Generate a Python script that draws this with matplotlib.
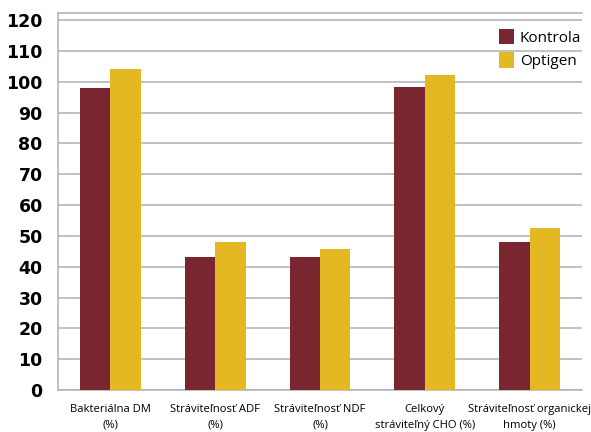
import numpy as np
import matplotlib.pyplot as plt

categories = ['Bakteriálna DM\n(%)', 'Stráviteľnosť ADF\n(%)', 'Stráviteľnosť NDF\n(%)',
              'Celkový\nstráviteľný CHO (%)', 'Stráviteľnosť organickej\nhmoty (%)']
kontrola = [98.0, 43.3, 43.3, 98.3, 48.0]
optigen = [104.0, 48.1, 45.7, 102.3, 52.4]

c_kon = '#7A2631'
c_opt = '#E3B823'
grid_c = '#B0B0B0'

fig = plt.figure(figsize=(5.91, 4.32), dpi=100)
ax = fig.add_axes([58 / 591, 1 - 390 / 432, 524 / 591, 377 / 432])

x = np.arange(len(categories))
w = 0.29
ax.bar(x - w / 2, kontrola, w, color=c_kon, label='Kontrola', zorder=3)
ax.bar(x + w / 2, optigen, w, color=c_opt, label='Optigen', zorder=3)

ax.set_xlim(-0.5, len(categories) - 0.5)
ax.set_ylim(0, 122.3)
ax.set_yticks(range(0, 121, 10))
ax.yaxis.grid(True, color=grid_c, lw=1.1, zorder=0)
ax.tick_params(axis='y', length=0, pad=11, labelsize=12.5)
for t in ax.get_yticklabels():
    t.set_fontweight('bold')
ax.set_xticks(x)
ax.set_xticklabels(categories, fontsize=8.1, family='Open Sans', linespacing=1.6)
ax.tick_params(axis='x', length=0, pad=10)

ax.spines['right'].set_visible(False)
for s in ['left', 'bottom', 'top']:
    ax.spines[s].set_color(grid_c)
    ax.spines[s].set_linewidth(1.1)

leg = ax.legend(loc='upper right', bbox_to_anchor=(1.025, 0.995), frameon=False,
                prop={'family': 'Open Sans', 'size': 11}, handlelength=1.0,
                handleheight=1.2, handletextpad=0.4, labelspacing=0.45)

fig.savefig('out.png', dpi=100)
